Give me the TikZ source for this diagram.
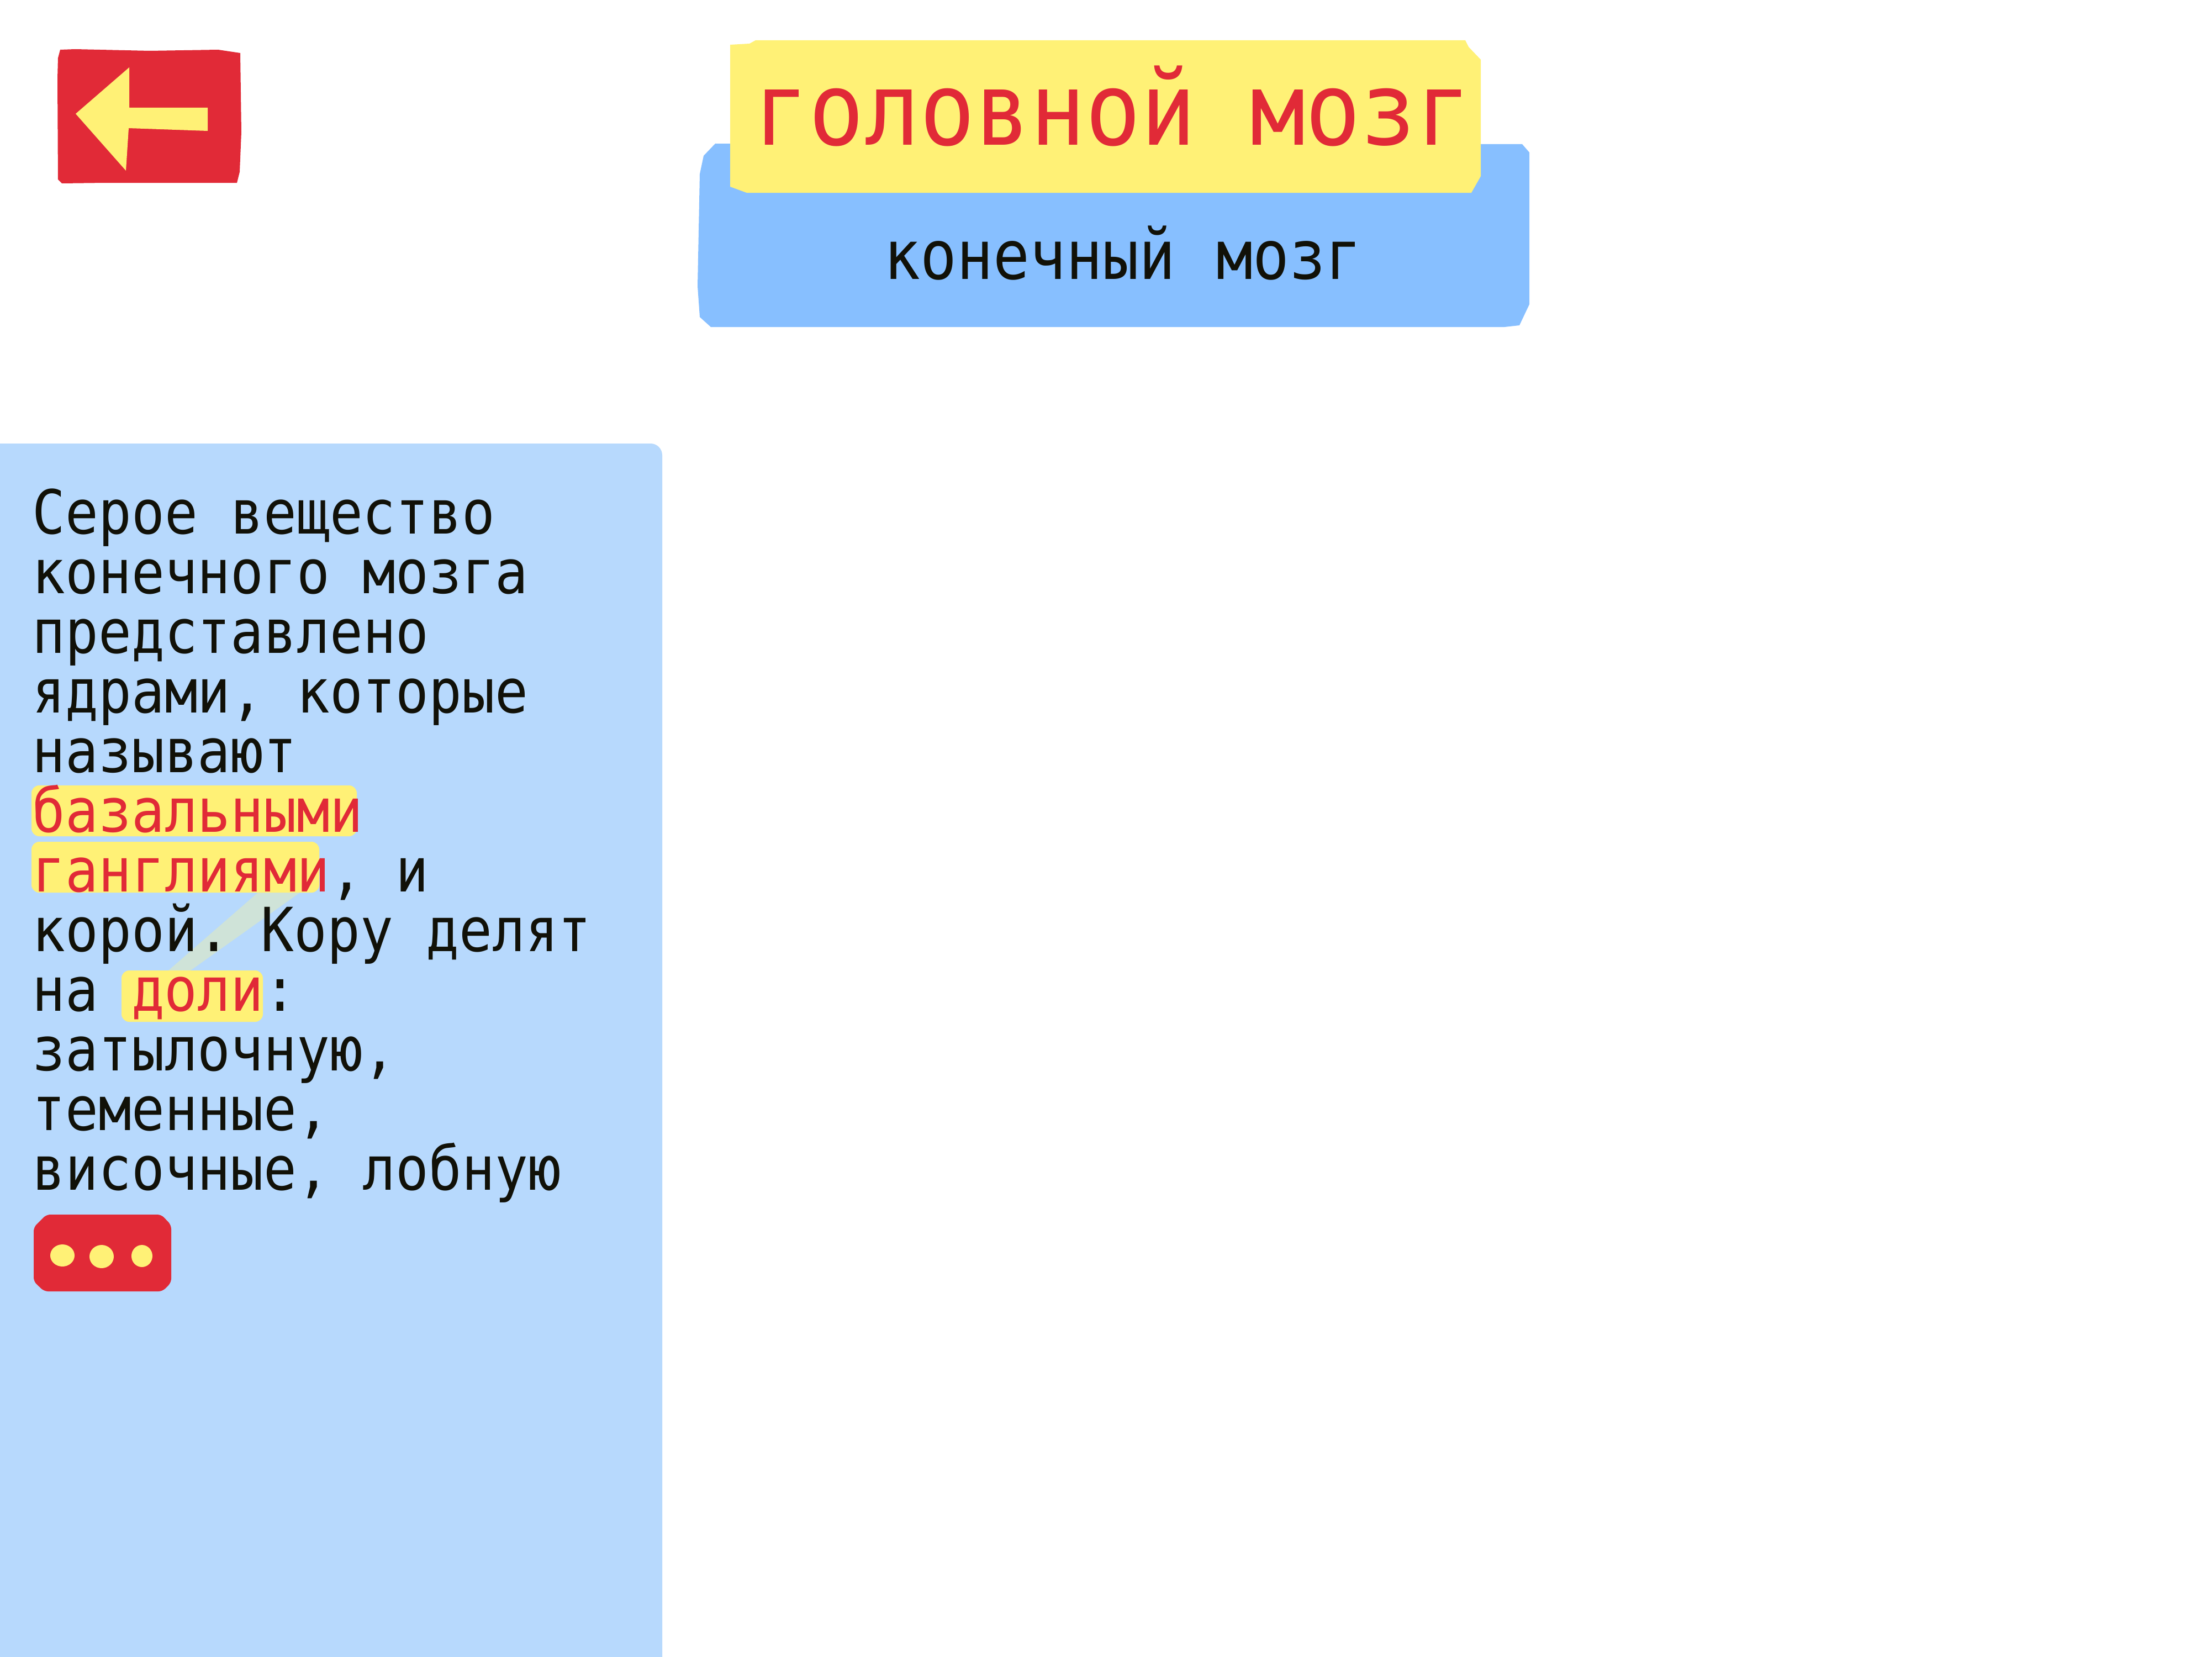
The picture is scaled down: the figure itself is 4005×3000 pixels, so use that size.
\documentclass[tikz,border=0pt]{standalone}
\usepackage{fontspec}
\usetikzlibrary{positioning}
\newfontfamily\monofont[FakeStretch=0.903]{DejaVu Sans Mono}
\newfontfamily\titlefont[FakeStretch=0.91]{DejaVu Sans Mono}
\newfontfamily\subfont[FakeStretch=0.89]{DejaVu Sans Mono}
\definecolor{mred}{HTML}{E12A37}
\definecolor{myellow}{HTML}{FFF176}
\definecolor{mblue}{HTML}{87BFFF}
\definecolor{mpanel}{HTML}{B7D9FD}
\definecolor{mstripe}{HTML}{CFE3D8}
\definecolor{mink}{HTML}{111108}
\tikzset{
    txtline/.style={font=\monofont\fontsize{31.3}{31.3}\selectfont,text=mink,inner sep=0pt,
        execute at begin node={\spaceskip=16.96pt\relax},
        text height=27pt,text depth=8pt,text width=11cm,align=left},
    titleline/.style={font=\titlefont\fontsize{52}{52}\selectfont,text=mred,inner sep=0pt,anchor=base west,
        execute at begin node={\spaceskip=27.6pt\relax}},
    subline/.style={font=\subfont\fontsize{35}{35}\selectfont,text=mink,inner sep=0pt,anchor=base west,
        execute at begin node={\spaceskip=21pt\relax}},
    hilite/.style={fill=myellow,rounded corners=4pt}
}
\begin{document}
\begin{tikzpicture}[x=0.01cm,y=-0.01cm,node distance=1.08cm,on grid]
        \useasboundingbox (0,0) rectangle (4005,3000);
        \fill[white] (0,0) rectangle (4005,3000);

        \fill[mpanel] (0,3000) -- (0,803) [rounded corners=6pt] -- (1199,803) [sharp corners] -- (1199,3000) -- cycle;

        \fill[mred] (109,90) -- (136,89) -- (271,92) -- (395,90) -- (435,96) -- (437,239) -- (434,311) -- (429,331)
            -- (191,331) -- (112,332) -- (105,325) -- (104,143) -- (105,105) -- cycle;
        \fill[myellow] (137,206) -- (234,122) -- (234,195) -- (376,195) -- (376,237) -- (233,232) -- (228,309) -- cycle;

        \fill[mblue] (1295,260) -- (2756,261) -- (2769,276) -- (2769,551) -- (2751,589) -- (2724,592)
            -- (1287,592) -- (1267,574) -- (1263,518) -- (1267,315) -- (1274,282) -- cycle;
        \fill[myellow] (1322,81) -- (1357,79) -- (1368,73) -- (2653,73) -- (2659,85) -- (2681,108) -- (2681,319)
            -- (2664,349) -- (1352,349) -- (1322,338) -- cycle;

        \node[titleline] (title) at (1364,262) {головной мозг};
        \node[subline] (sub) at (1600,505) {конечный мозг};

        \fill[mstripe] (467,1616) -- (543,1616) -- (345,1757) -- (305,1757) -- cycle;
        \fill[hilite] (57,1422) rectangle (646,1514);
        \fill[hilite] (57,1524) rectangle (578,1616);
        \fill[hilite] (220,1757) rectangle (476,1850);

        \node[txtline,anchor=base west] (l0) at (58,966) {Серое вещество};
        \node[txtline] (l1) [below of=l0] {конечного мозга};
        \node[txtline] (l2) [below of=l1] {представлено};
        \node[txtline] (l3) [below of=l2] {ядрами, которые};
        \node[txtline] (l4) [below of=l3] {называют};
        \node[txtline] (l5) [below of=l4] {\textcolor{mred}{базальными}};
        \node[txtline] (l6) [below of=l5] {\textcolor{mred}{ганглиями}, и};
        \node[txtline] (l7) [below of=l6] {корой. Кору делят};
        \node[txtline] (l8) [below of=l7] {на \textcolor{mred}{доли}:};
        \node[txtline] (l9) [below of=l8] {затылочную,};
        \node[txtline] (l10) [below of=l9] {теменные,};
        \node[txtline] (l11) [below of=l10] {височные, лобную};

        \fill[mred,rounded corners=2pt] (61,2222) -- (84,2199) -- (292,2199) -- (310,2218) -- (310,2322)
            -- (294,2338) -- (80,2338) -- (61,2320) -- cycle;
        \fill[myellow] (113,2273) ellipse (22 and 20);
        \fill[myellow] (184,2275) ellipse (22 and 21);
        \fill[myellow] (257,2274) ellipse (19 and 20);
\end{tikzpicture}
\end{document}
